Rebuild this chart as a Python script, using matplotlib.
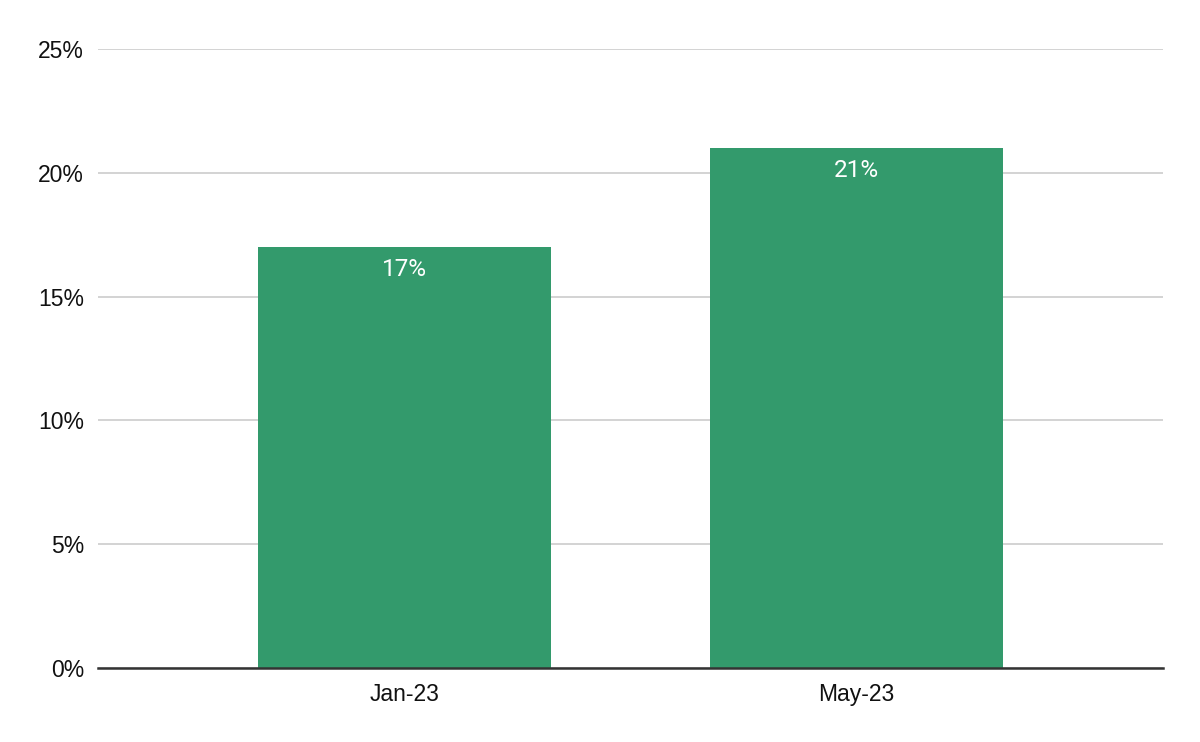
import matplotlib
matplotlib.use("Agg")
import matplotlib.pyplot as plt
from matplotlib.ticker import FuncFormatter

categories = ["Jan-23", "May-23"]
values = [17, 21]
yticks = [0, 5, 10, 15, 20, 25]

fig = plt.figure(figsize=(12, 7.42), dpi=100)
ax = fig.add_axes([98/1200, 1-668/742, (1163-98)/1200, (668-49)/742])

x = list(range(len(categories)))
bars = ax.bar(x, values, width=0.648, color="#339a6c", zorder=3)
ax.set_xlim(-0.678, 1.678)
ax.set_ylim(0, 25)
ax.set_yticks(yticks)
ax.yaxis.set_major_formatter(FuncFormatter(lambda v, p: f"{int(v)}%"))
ax.set_xticks(x)
ax.set_xticklabels(categories)

for lab in ax.get_xticklabels() + ax.get_yticklabels():
    lab.set_fontfamily("Liberation Sans")
    lab.set_fontsize(16.5)
    lab.set_color("#111111")

ax.tick_params(axis="both", length=0)
ax.tick_params(axis="y", pad=10)
ax.tick_params(axis="x", pad=11)
ax.grid(axis="y", color="#cccccc", linewidth=1.2, zorder=0)
for s in ["top", "right", "left"]:
    ax.spines[s].set_visible(False)
ax.spines["bottom"].set_color("#333333")
ax.spines["bottom"].set_linewidth(1.8)
ax.spines["bottom"].set_zorder(4)

for xi, v in zip(x, values):
    ax.annotate(f"{v}%", xy=(xi, v), xytext=(0, -11), textcoords="offset pixels",
                ha="center", va="top", color="white", fontsize=17.5,
                fontfamily="Roboto", zorder=5)

fig.savefig("out.png", dpi=100)
